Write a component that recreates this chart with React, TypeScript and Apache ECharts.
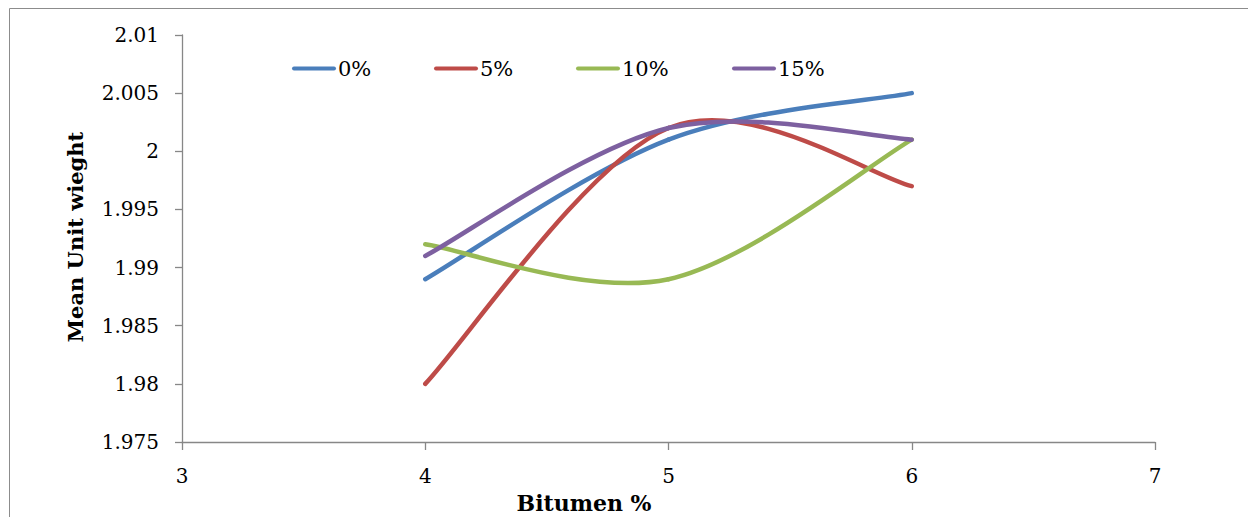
import React, { useEffect, useRef } from "react";
import * as echarts from "echarts";

const bitumen = [4, 5, 6];
const seriesNames = ["0%", "5%", "10%", "15%"];
const s0 = [1.989, 2.001, 2.005];
const s5 = [1.98, 2.002, 1.997];
const s10 = [1.992, 1.989, 2.001];
const s15 = [1.991, 2.002, 2.001];
const colors = ["#4A7EBB", "#BE4B48", "#98B954", "#7D60A0"];
const legendLefts = [292, 434, 576, 732];

const FONT = "DejaVu Serif";

function makeSeries(vals: number[], i: number) {
  const data = vals.map((v, j) => [bitumen[j], v]);
  return {
    name: seriesNames[i],
    type: "custom",
    coordinateSystem: "cartesian2d",
    data,
    encode: { x: 0, y: 1 },
    itemStyle: { color: colors[i] },
    z: 2 + i,
    renderItem: (params: any, api: any) => {
      const k = params.dataIndex;
      const n = data.length;
      if (k >= n - 1) return { type: "group", children: [] };
      const pts = data.map((d) => api.coord(d));
      const p0 = pts[Math.max(k - 1, 0)];
      const p1 = pts[k];
      const p2 = pts[k + 1];
      const p3 = pts[Math.min(k + 2, n - 1)];
      const t = 1 / 6;
      return {
        type: "bezierCurve",
        shape: {
          x1: p1[0],
          y1: p1[1],
          cpx1: p1[0] + (p2[0] - p0[0]) * t,
          cpy1: p1[1] + (p2[1] - p0[1]) * t,
          cpx2: p2[0] - (p3[0] - p1[0]) * t,
          cpy2: p2[1] - (p3[1] - p1[1]) * t,
          x2: p2[0],
          y2: p2[1],
        },
        style: { stroke: colors[i], lineWidth: 4.5, fill: null, lineCap: "round" },
      };
    },
  };
}

export default function App() {
  const ref = useRef<HTMLDivElement>(null);
  useEffect(() => {
    if (!ref.current) return;
    const chart = echarts.init(ref.current, null, { renderer: "svg" });
    const values = [s0, s5, s10, s15];
    const series = values.map((vals, i) => makeSeries(vals, i));
    chart.setOption({
      animation: false,
      backgroundColor: "#fff",
      grid: { left: 182, right: 93, top: 35, bottom: 75, containLabel: false },
      legend: seriesNames.map((n, i) => ({
        data: [{ name: n, itemStyle: { color: colors[i] } }],
        left: legendLefts[i],
        top: 58,
        padding: 0,
        icon: "path://M2,0 L42,0 A2,2 0 0 1 42,4 L2,4 A2,2 0 0 1 2,0 Z",
        itemWidth: 44,
        itemHeight: 5,
        itemGap: 0,
        selectedMode: false,
        textStyle: { fontFamily: FONT, fontSize: 21, color: "#000", padding: [0, 0, 0, -3] },
      })),
      xAxis: {
        type: "value",
        min: 3,
        max: 7,
        interval: 1,
        splitLine: { show: false },
        axisLine: { show: true, onZero: false, lineStyle: { color: "#878787", width: 1.3 } },
        axisTick: { show: true, length: 8, lineStyle: { color: "#878787", width: 1.3 } },
        axisLabel: { fontFamily: FONT, fontSize: 20, color: "#000", margin: 24 },
      },
      yAxis: {
        type: "value",
        min: 1.975,
        max: 2.01,
        interval: 0.005,
        splitLine: { show: false },
        axisLine: { show: true, lineStyle: { color: "#878787", width: 1.3 } },
        axisTick: { show: true, length: 7, lineStyle: { color: "#878787", width: 1.3 } },
        axisLabel: {
          fontFamily: FONT,
          fontSize: 20,
          color: "#000",
          margin: 23,
          formatter: (v: number) => String(parseFloat(v.toFixed(3))),
        },
      },
      graphic: [
        {
          type: "rect",
          shape: { x: 9.5, y: 8.5, width: 1400, height: 700 },
          style: { fill: "none", stroke: "#8c8c8c", lineWidth: 1 },
          silent: true,
          z: -1,
        },
        {
          type: "text",
          x: 75,
          y: 237,
          rotation: Math.PI / 2,
          style: {
            text: "Mean Unit wieght",
            fontFamily: FONT,
            fontWeight: "bold",
            fontSize: 21,
            fill: "#000",
            align: "center",
            verticalAlign: "middle",
          },
        },
        {
          type: "text",
          x: 584,
          y: 503,
          style: {
            text: "Bitumen %",
            fontFamily: FONT,
            fontWeight: "bold",
            fontSize: 22,
            fill: "#000",
            align: "center",
            verticalAlign: "middle",
          },
        },
      ],
      series,
    });
    return () => chart.dispose();
  }, []);
  return (
    <div
      ref={ref}
      style={{ position: "fixed", left: 0, top: 0, width: 1248, height: 517 }}
    />
  );
}
